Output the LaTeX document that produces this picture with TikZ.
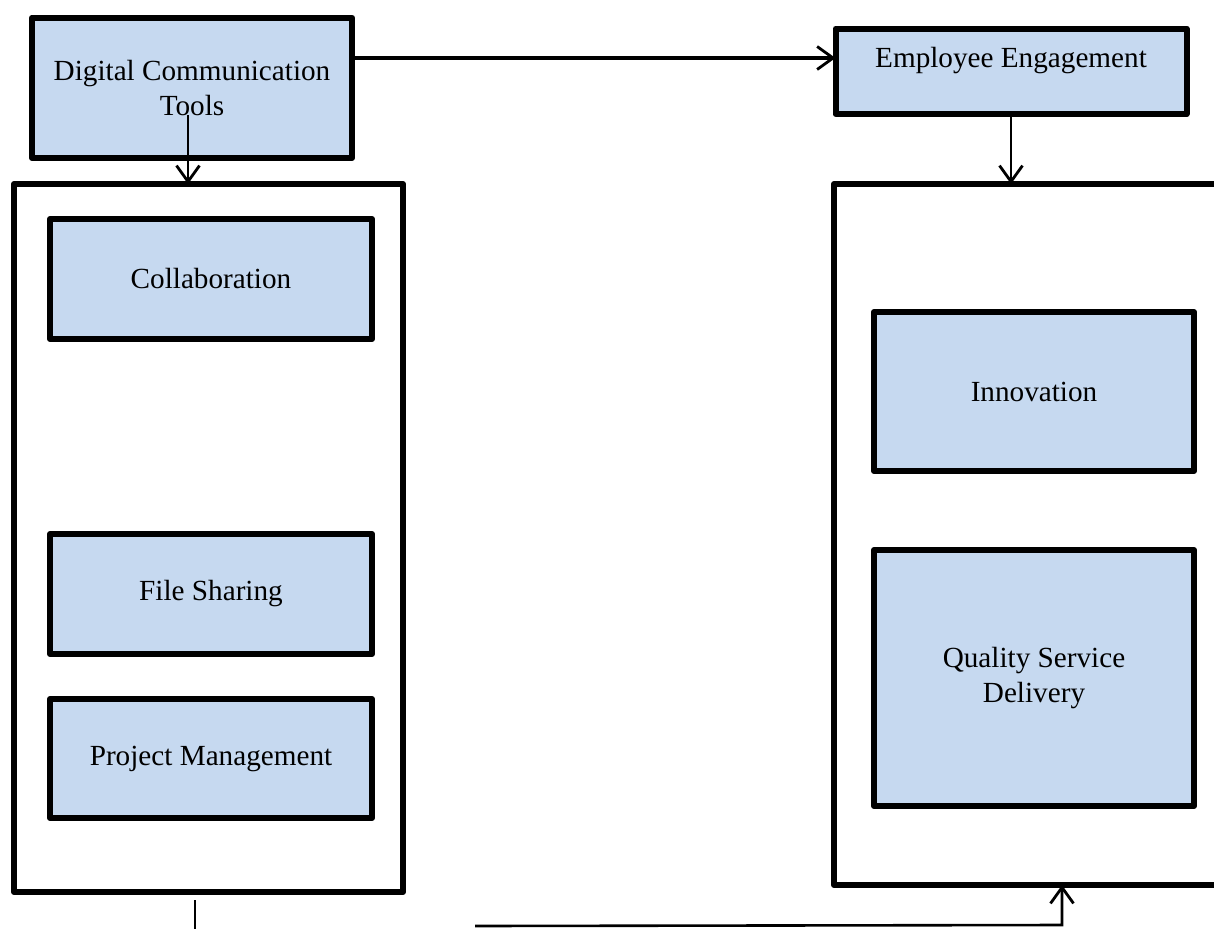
\documentclass[tikz,border=0pt]{standalone}
\usepackage{fontspec}
\setmainfont{Liberation Serif}
\usetikzlibrary{arrows.meta}
\definecolor{boxblue}{RGB}{198,217,240}
\tikzset{
  bluebox/.style={draw=black, line width=6pt, fill=boxblue, rectangle, line join=round,
    inner sep=0pt, outer sep=0pt, align=center, font=\fontsize{29.2}{35}\selectfont},
  container/.style={draw=black, line width=6pt, fill=none, rectangle, line join=round,
    inner sep=0pt, outer sep=0pt},
  lbl/.style={inner sep=0pt, align=center, font=\fontsize{29.2}{35}\selectfont},
  arr/.style={draw=black, line width=2.6pt, -{Straight Barb[length=16pt,width=23pt,line width=2.8pt]}},
  plainline/.style={draw=black, line width=2.6pt}
}
\begin{document}
\begin{tikzpicture}[x=1pt,y=1pt]
\useasboundingbox (0,0) rectangle (1214,-928);
\clip (0,0) rectangle (1214,-928);
\fill[white] (0,0) rectangle (1214,-928);
% top boxes
\node[bluebox, minimum width=320pt, minimum height=140.5pt] (dct) at (192,-87.8) {};
\node[lbl] (dcttext) at (192,-88.5) {Digital Communication\\Tools};
\node[bluebox, minimum width=351pt, minimum height=85.5pt] (ee) at (1011,-71.3) {};
\node[lbl] (eetext) at (1011,-61) {Employee Engagement};
% containers
\node[container, minimum width=389pt, minimum height=708pt] (lc) at (208.5,-538) {};
\node[container, minimum width=420pt, minimum height=701pt] (rc) at (1044,-534.5) {};
% left inner boxes
\node[bluebox, minimum width=322pt, minimum height=120pt] (collab) at (211,-279) {Collaboration};
\node[bluebox, minimum width=322pt, minimum height=120pt] (files) at (211,-594) {File Sharing};
\node[bluebox, minimum width=322pt, minimum height=119pt] (pm) at (211,-758.5) {Project Management};
% right inner boxes
\node[bluebox, minimum width=320pt, minimum height=159pt] (innov) at (1034,-391.5) {Innovation};
\node[bluebox, minimum width=320pt, minimum height=256pt] (qsd) at (1034,-678) {Quality Service\\Delivery};
% connectors
\draw[arr, line width=3.6pt] ([yshift=29.8pt]dct.east) -- ([yshift=13.3pt]ee.west);
\draw[arr] ([xshift=-4pt,yshift=43pt]dct.south) -- ([xshift=-20.5pt]lc.north);
\draw[arr] (ee.south) -- (ee.south |- rc.north);
\coordinate (stub) at (195,-900);
\coordinate (hs) at (475,-926);
\coordinate (he) at (1062,-925);
\draw[plainline] (stub) -- ++(0,-40);
\draw[arr] (hs) -- (he) -- (he |- rc.south);
\end{tikzpicture}
\end{document}
